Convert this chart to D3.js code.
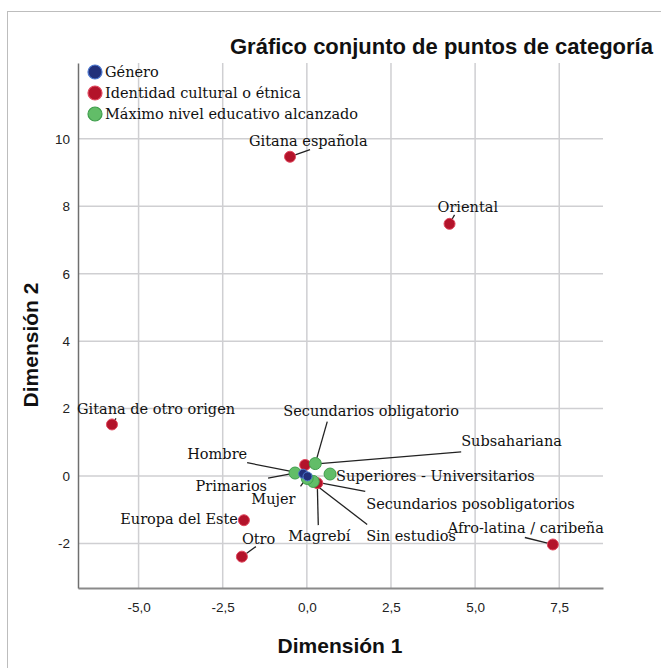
<!DOCTYPE html>
<html>
<head>
<meta charset="utf-8">
<script src="https://cdn.jsdelivr.net/npm/d3@7"></script>
<style>
  body { margin: 0; background: #fff; }
  svg { display: block; }
  .tick text { font-family: "Liberation Sans", Arial, sans-serif; font-size: 13.5px; fill: #222; }
  .lbl { font-family: "DejaVu Serif", serif; font-size: 14.5px; fill: #111; }
</style>
</head>
<body>
<svg id="chart" width="661" height="668"></svg>
<script>
'use strict';

// series names (legend order)
var seriesNames = ['Género', 'Identidad cultural o étnica', 'Máximo nivel educativo alcanzado'];

// Género
var generoCats = ['Hombre', 'Mujer'];
var generoX = [-0.11, 0.02];
var generoY = [0.07, -0.01];

// Identidad cultural o étnica
var identCats = ['Gitana española', 'Oriental', 'Gitana de otro origen', 'Europa del Este', 'Otro',
  'Afro-latina / caribeña', 'Subsahariana', 'Magrebí'];
var identX = [-0.50, 4.24, -5.79, -1.87, -1.93, 7.31, -0.05, 0.31];
var identY = [9.47, 7.48, 1.53, -1.31, -2.39, -2.03, 0.33, -0.21];

// Máximo nivel educativo alcanzado
var eduCats = ['Primarios', 'Secundarios obligatorio', 'Superiores - Universitarios',
  'Secundarios posobligatorios', 'Sin estudios'];
var eduX = [-0.35, 0.25, 0.69, 0.19, 0.01];
var eduY = [0.09, 0.37, 0.06, -0.16, -0.07];

var xTicks = [-5, -2.5, 0, 2.5, 5, 7.5];
var yTicks = [-2, 0, 2, 4, 6, 8, 10];

// label placement (pixel offsets from the point), kept apart from the data
var labelPos = {
  'Hombre': { a: 'end', dx: -56, dy: -15, lx: -56, ly: -11 },
  'Mujer': { a: 'end', dx: -12, dy: 28, lx: -7, ly: 10 },
  'Gitana española': { a: 'start', dx: -41, dy: -11, lx: 20, ly: -7 },
  'Oriental': { a: 'start', dx: -12, dy: -12, lx: 5, ly: -9 },
  'Gitana de otro origen': { a: 'start', dx: -35, dy: -10, lx: 4, ly: -6 },
  'Europa del Este': { a: 'end', dx: -6, dy: 4 },
  'Otro': { a: 'start', dx: 0, dy: -13, lx: 14, ly: -10 },
  'Afro-latina / caribeña': { a: 'end', dx: 51, dy: -12, lx: -28, ly: -7 },
  'Subsahariana': { a: 'start', dx: 156, dy: -19, lx: 156, ly: -13 },
  'Magrebí': { a: 'start', dx: -29, dy: 58, lx: 1, ly: 42 },
  'Primarios': { a: 'end', dx: -28, dy: 18, lx: -27, ly: 5 },
  'Secundarios obligatorio': { a: 'start', dx: -32, dy: -48, lx: 12, ly: -42 },
  'Superiores - Universitarios': { a: 'start', dx: 6, dy: 7 },
  'Secundarios posobligatorios': { a: 'start', dx: 53, dy: 28, lx: 52, ly: 10 },
  'Sin estudios': { a: 'start', dx: 59, dy: 63, lx: 60, ly: 46 }
};

var styles = [
  { fill: '#22307a', stroke: '#4d78cf', r: 4.5 },
  { fill: '#b3132a', stroke: '#e0485e', r: 5.5 },
  { fill: '#62bd68', stroke: '#3f9e4c', r: 6 }
];

var svg = d3.select('#chart');
var margin = { left: 78, right: 58, top: 63, bottom: 80 };
var W = 661, H = 668;

var x = d3.scaleLinear().domain([-6.8, 8.8]).range([margin.left, W - margin.right]);
var y = d3.scaleLinear().domain([-3.32, 12.25]).range([H - margin.bottom, margin.top]);

// outer frame
svg.append('rect').attr('x', 7.5).attr('y', 11.5).attr('width', 670).attr('height', 680)
  .attr('fill', 'none').attr('stroke', '#bdbdbd').attr('stroke-width', 1);

// grid
svg.append('g').selectAll('line').data(xTicks).enter().append('line')
  .attr('x1', function(d){ return x(d); }).attr('x2', function(d){ return x(d); })
  .attr('y1', y.range()[0]).attr('y2', y.range()[1])
  .attr('stroke', '#cfcfd2').attr('stroke-width', 1.5);
svg.append('g').selectAll('line').data(yTicks).enter().append('line')
  .attr('y1', function(d){ return y(d); }).attr('y2', function(d){ return y(d); })
  .attr('x1', x.range()[0]).attr('x2', x.range()[1])
  .attr('stroke', '#cfcfd2').attr('stroke-width', 1.5);

var fmtX = function(d){ return d3.format('.1f')(d).replace('.', ',').replace('−', '-'); };

var xAxis = svg.append('g').attr('transform', 'translate(0,' + y.range()[0] + ')')
  .call(d3.axisBottom(x).tickValues(xTicks).tickSize(0).tickPadding(14).tickFormat(fmtX));
xAxis.select('.domain').attr('stroke', '#8a8a8a').attr('stroke-width', 2);

var yAxis = svg.append('g').attr('transform', 'translate(' + x.range()[0] + ',0)')
  .call(d3.axisLeft(y).tickValues(yTicks).tickSize(0).tickPadding(8)
    .tickFormat(function(d){ return String(d).replace('−', '-'); }));
yAxis.select('.domain').attr('stroke', '#6f6f6f').attr('stroke-width', 1.5);

// titles
var sans = '"Liberation Sans", Arial, sans-serif';
svg.append('text').attr('x', 230).attr('y', 54)
  .attr('font-family', sans).attr('font-size', 22)
  .attr('font-weight', 'bold').attr('fill', '#111').text('Gráfico conjunto de puntos de categoría');
svg.append('text').attr('x', 340).attr('y', 653).attr('text-anchor', 'middle')
  .attr('font-family', sans).attr('font-size', 21)
  .attr('font-weight', 'bold').attr('fill', '#111').text('Dimensión 1');
svg.append('text').attr('transform', 'translate(38,345) rotate(-90)').attr('text-anchor', 'middle')
  .attr('font-family', sans).attr('font-size', 21)
  .attr('font-weight', 'bold').attr('fill', '#111').text('Dimensión 2');

// build point list from arrays
function pts(cats, xs, ys, s) {
  return cats.map(function(c, i){ return { name: c, x: xs[i], y: ys[i], s: s }; });
}
var allPts = [].concat(
  pts(identCats, identX, identY, 1),
  pts(eduCats, eduX, eduY, 2),
  pts(generoCats, generoX, generoY, 0)
);

// leader lines
var leaders = allPts.filter(function(p){ return labelPos[p.name] && labelPos[p.name].lx !== undefined; });
svg.append('g').selectAll('line').data(leaders).enter().append('line')
  .attr('x1', function(p){ return x(p.x) + labelPos[p.name].lx; })
  .attr('y1', function(p){ return y(p.y) + labelPos[p.name].ly; })
  .attr('x2', function(p){
    var L = labelPos[p.name], dx = -L.lx, dy = -L.ly, len = Math.sqrt(dx*dx + dy*dy);
    return x(p.x) + L.lx + dx * Math.max(0, (len - styles[p.s].r) / len);
  })
  .attr('y2', function(p){
    var L = labelPos[p.name], dx = -L.lx, dy = -L.ly, len = Math.sqrt(dx*dx + dy*dy);
    return y(p.y) + L.ly + dy * Math.max(0, (len - styles[p.s].r) / len);
  })
  .attr('stroke', '#222').attr('stroke-width', 1.3);

// points
svg.append('g').selectAll('circle').data(allPts).enter().append('circle')
  .attr('cx', function(p){ return x(p.x); })
  .attr('cy', function(p){ return y(p.y); })
  .attr('r', function(p){ return styles[p.s].r; })
  .attr('fill', function(p){ return styles[p.s].fill; })
  .attr('stroke', function(p){ return styles[p.s].stroke; })
  .attr('stroke-width', 1);

// labels
svg.append('g').selectAll('text').data(allPts).enter().append('text')
  .attr('class', 'lbl')
  .attr('x', function(p){ return x(p.x) + labelPos[p.name].dx; })
  .attr('y', function(p){ return y(p.y) + labelPos[p.name].dy; })
  .attr('text-anchor', function(p){ return labelPos[p.name].a; })
  .text(function(p){ return p.name; });

// legend
var leg = svg.append('g');
leg.selectAll('circle').data(seriesNames).enter().append('circle')
  .attr('cx', 95).attr('cy', function(d, i){ return 72 + i * 21; }).attr('r', 7)
  .attr('fill', function(d, i){ return styles[i].fill; })
  .attr('stroke', function(d, i){ return styles[i].stroke; }).attr('stroke-width', 1.2);
leg.selectAll('text').data(seriesNames).enter().append('text')
  .attr('class', 'lbl').attr('x', 105).attr('y', function(d, i){ return 77 + i * 21; })
  .text(function(d){ return d; });
</script>
</body>
</html>
